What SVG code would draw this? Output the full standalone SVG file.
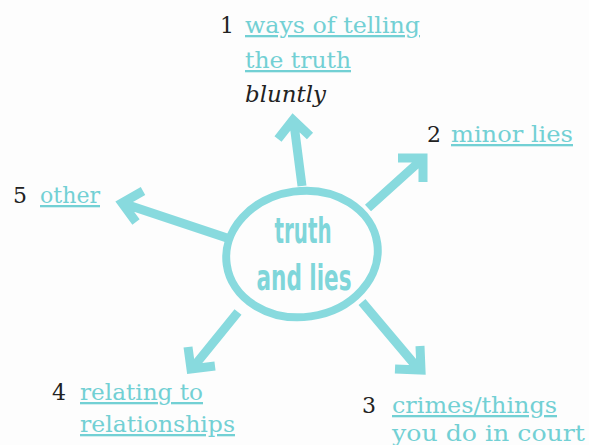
<svg xmlns="http://www.w3.org/2000/svg" width="589" height="445" viewBox="0 0 589 445">
<style>
.num{font-family:"DejaVu Serif","Liberation Serif",serif;font-size:22px;fill:#222}
.lab{font-family:"DejaVu Serif","Liberation Serif",serif;font-size:23px;fill:#72d0d4;text-decoration:underline}
.plain{font-family:"DejaVu Serif","Liberation Serif",serif;font-size:23px;fill:#72d0d4}
.it{font-family:"DejaVu Serif","Liberation Serif",serif;font-size:23px;font-style:italic;fill:#222}
.ctr{font-family:"DejaVu Sans Condensed","Liberation Sans",sans-serif;font-weight:bold;font-size:36px;fill:#7fd6da}
.ln{stroke:#88dade;stroke-width:9;fill:none;stroke-linecap:butt;stroke-linejoin:miter}
</style>
<rect width="589" height="445" fill="#fdfdfd"/>
<g id="connectors">
<path class="ln" d="M302 186 L294 124 M278 139 L293 120 L310 136"/>
<path class="ln" d="M368 208 L419 162 M398 158 L423 158 L423 182"/>
<path class="ln" d="M227 238 L128 205 M143 191 L122 203 L136 222"/>
<path class="ln" d="M238 312 L195 365 M188 347 L191 369 L215 366"/>
<path class="ln" d="M362 302 L416 366 M420 346 L421 370 L395 369"/>
</g>
<g id="center">
<ellipse cx="302" cy="254" rx="76" ry="63" transform="rotate(-8 302 254)" fill="none" stroke="#88dade" stroke-width="8"/>
<text class="ctr" x="303" y="243" text-anchor="middle" textLength="57" lengthAdjust="spacingAndGlyphs">truth</text>
<text class="ctr" x="304" y="290" text-anchor="middle" textLength="95" lengthAdjust="spacingAndGlyphs">and lies</text>
</g>
<g id="node1">
<text class="num" x="220" y="33">1</text>
<text class="lab" x="245" y="33" textLength="175" lengthAdjust="spacingAndGlyphs">ways of telling</text>
<text class="lab" x="245" y="68" textLength="106" lengthAdjust="spacingAndGlyphs">the truth</text>
<text class="it" x="245" y="102" textLength="81" lengthAdjust="spacingAndGlyphs">bluntly</text>
</g>
<g id="node2">
<text class="num" x="427" y="142">2</text>
<text class="lab" x="451" y="142" textLength="122" lengthAdjust="spacingAndGlyphs">minor lies</text>
</g>
<g id="node3">
<text class="num" x="362" y="413">3</text>
<text class="lab" x="392" y="413" textLength="165" lengthAdjust="spacingAndGlyphs">crimes/things</text>
<text class="plain" x="392" y="441" textLength="193" lengthAdjust="spacingAndGlyphs">you do in court</text>
</g>
<g id="node4">
<text class="num" x="52" y="400">4</text>
<text class="lab" x="80" y="400" textLength="123" lengthAdjust="spacingAndGlyphs">relating to</text>
<text class="lab" x="80" y="432" textLength="155" lengthAdjust="spacingAndGlyphs">relationships</text>
</g>
<g id="node5">
<text class="num" x="13" y="203">5</text>
<text class="lab" x="40" y="203" textLength="60" lengthAdjust="spacingAndGlyphs">other</text>
</g>
</svg>
